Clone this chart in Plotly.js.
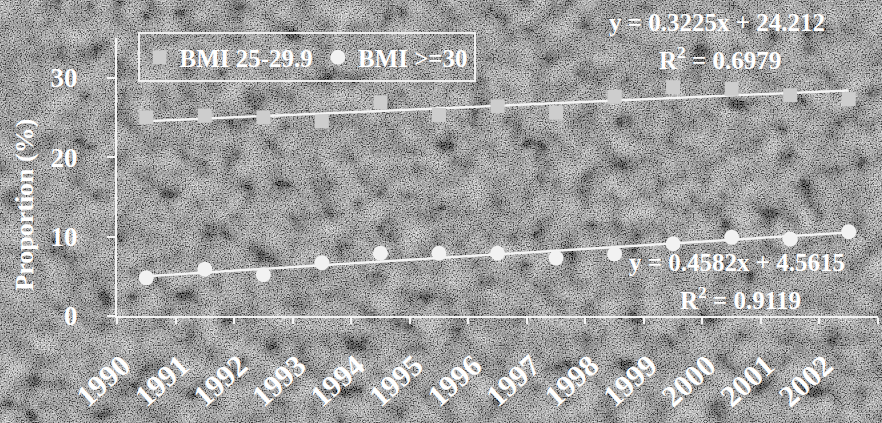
<!DOCTYPE html>
<html>
<head>
<meta charset="utf-8">
<script src="https://cdn.plot.ly/plotly-3.0.1.min.js"></script>
<style>
html,body{margin:0;padding:0;width:882px;height:423px;overflow:hidden;}
body{background-color:#5c5c5c;background-image:url("data:image/svg+xml;utf8,<svg xmlns='http://www.w3.org/2000/svg' width='882' height='423'><filter id='a'><feTurbulence type='fractalNoise' baseFrequency='0.045' numOctaves='3' seed='4'/><feColorMatrix type='matrix' values='0.33 0.33 0.33 0 0 0.33 0.33 0.33 0 0 0.33 0.33 0.33 0 0 0 0 0 0 1'/><feComponentTransfer><feFuncR type='linear' slope='1.9' intercept='-0.6'/><feFuncG type='linear' slope='1.9' intercept='-0.6'/><feFuncB type='linear' slope='1.9' intercept='-0.6'/></feComponentTransfer></filter><filter id='b'><feTurbulence type='fractalNoise' baseFrequency='0.75' numOctaves='1' seed='2'/><feColorMatrix type='matrix' values='0.33 0.33 0.33 0 0 0.33 0.33 0.33 0 0 0.33 0.33 0.33 0 0 0 0 0 0 1'/><feComponentTransfer><feFuncR type='linear' slope='4' intercept='-1.6'/><feFuncG type='linear' slope='4' intercept='-1.6'/><feFuncB type='linear' slope='4' intercept='-1.6'/></feComponentTransfer></filter><rect width='100%' height='100%' filter='url(%23a)'/><rect width='100%' height='100%' filter='url(%23b)' opacity='0.55'/></svg>");}
#chart{width:882px;height:423px;}
</style>
</head>
<body>
<div id="chart"></div>
<script>
// Data
const years = ['1990','1991','1992','1993','1994','1995','1996','1997','1998','1999','2000','2001','2002'];
const bmiOverweight = [25.0, 25.2, 25.0, 24.5, 26.9, 25.3, 26.4, 25.6, 27.6, 28.8, 28.6, 27.8, 27.3];
const bmiObese = [4.8, 5.9, 5.2, 6.7, 7.9, 7.9, 7.9, 7.3, 7.8, 9.1, 9.9, 9.7, 10.6];
// Linear trend coefficients shown on the chart (x = 1..13)
const trendSlope = [0.3225, 0.4582];
const trendIntercept = [24.212, 4.5615];
const seriesNames = ['BMI 25-29.9', 'BMI >=30'];
const equationTexts = ['y = 0.3225x + 24.212', 'y = 0.4582x + 4.5615'];
const r2Texts = ['R<sup>2</sup> = 0.6979', 'R<sup>2</sup> = 0.9119'];
const yTicks = [0, 10, 20, 30];
const yTitle = 'Proportion (%)';

const serif = '"Liberation Serif", "Times New Roman", serif';
const trend = (i) => years.map((_, k) => trendIntercept[i] + trendSlope[i] * (k + 1));
const annFont = {family: serif, size: 25, color: '#ffffff', weight: 'bold'};
const ann = (x, y, text) => ({xref: 'paper', yref: 'paper', x: x, y: y, xanchor: 'center', yanchor: 'middle', text: text, showarrow: false, font: annFont});

const traces = [
  {x: years, y: trend(0), type: 'scatter', mode: 'lines', line: {color: '#f4f4f4', width: 2.5}, showlegend: false, hoverinfo: 'skip'},
  {x: years, y: trend(1), type: 'scatter', mode: 'lines', line: {color: '#f4f4f4', width: 2.5}, showlegend: false, hoverinfo: 'skip'},
  {x: years, y: bmiOverweight, name: seriesNames[0], type: 'scatter', mode: 'markers',
   marker: {symbol: 'square', size: 14, color: '#cdcdcd', line: {width: 0}}},
  {x: years, y: bmiObese, name: seriesNames[1], type: 'scatter', mode: 'markers',
   marker: {symbol: 'circle', size: 15, color: '#f2f2f2', line: {width: 0}}}
];

const layout = {
  width: 882, height: 423,
  margin: {l: 117, r: 4, t: 38, b: 107, pad: 0},
  paper_bgcolor: 'rgba(0,0,0,0)',
  plot_bgcolor: 'rgba(0,0,0,0)',
  font: {family: serif, color: '#ffffff', size: 20, weight: 'bold'},
  xaxis: {
    type: 'category', range: [-0.5, 12.5], showgrid: false, zeroline: false,
    showline: true, linecolor: '#f4f4f4', linewidth: 2,
    ticks: 'outside', tickson: 'boundaries', ticklen: 6, tickcolor: '#f4f4f4', tickwidth: 2,
    tickangle: -42, ticklabelstandoff: 18, ticklabelshift: -24,
    tickfont: {family: serif, size: 30, color: '#ffffff', weight: 'bold'}
  },
  yaxis: {
    range: [0, 35], tickvals: yTicks, showgrid: false, zeroline: false,
    showline: true, linecolor: '#f4f4f4', linewidth: 2,
    ticks: 'outside', ticklen: 8, tickcolor: '#f4f4f4', tickwidth: 2, ticklabelstandoff: 24,
    tickfont: {family: serif, size: 27, color: '#ffffff', weight: 'bold'}
  },
  legend: {
    orientation: 'h', x: 0.027, y: 1.02, xanchor: 'left', yanchor: 'top',
    bgcolor: 'rgba(0,0,0,0)', bordercolor: '#f0f0f0', borderwidth: 2,
    font: {family: serif, size: 25, color: '#ffffff', weight: 'bold'},
    itemwidth: 30, tracegroupgap: 0, traceorder: 'normal'
  },
  annotations: [
    {xref: 'paper', yref: 'paper', x: -0.121, y: 0.40, xanchor: 'center', yanchor: 'middle', text: yTitle, textangle: -90, showarrow: false,
     font: {family: serif, size: 26, color: '#ffffff', weight: 'bold'}},
    ann(0.788, 1.054, equationTexts[0]),
    ann(0.792, 0.928, r2Texts[0]),
    ann(0.815, 0.191, equationTexts[1]),
    ann(0.819, 0.065, r2Texts[1])
  ]
};

Plotly.newPlot('chart', traces, layout, {displayModeBar: false, staticPlot: true});
</script>
</body>
</html>
